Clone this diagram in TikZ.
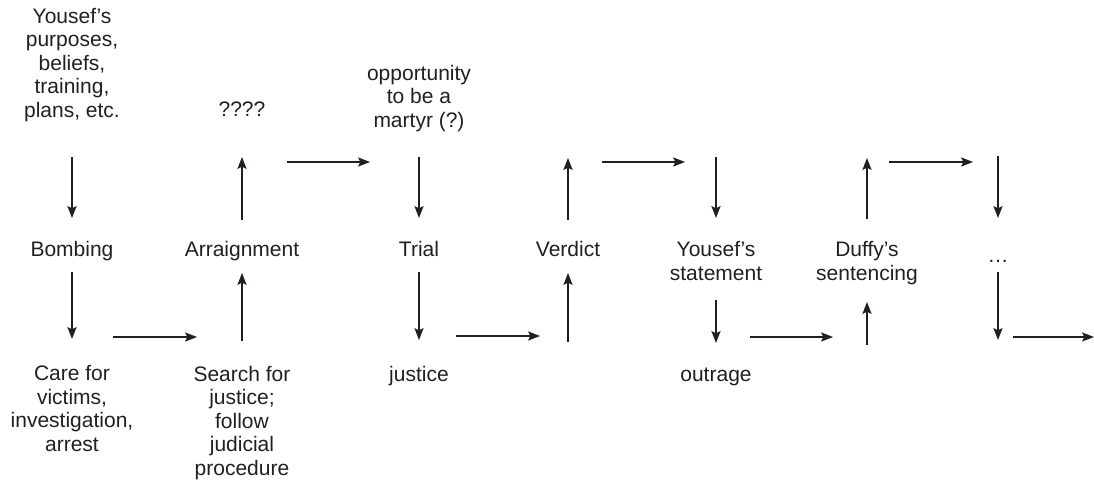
\documentclass[tikz,border=0pt]{standalone}
\usepackage{fontspec}
\setmainfont{Liberation Sans}
\usetikzlibrary{arrows.meta}
\definecolor{ink}{HTML}{231F20}
\begin{document}
\begin{tikzpicture}[x=0.5pt,y=-0.5pt,
  lbl/.style={anchor=base,inner sep=0pt,align=center,text=ink,
    font=\fontsize{10.5}{11.7}\selectfont},
  flow/.style={draw=ink,line width=0.65pt,
    -{Stealth[length=6pt,width=4.6pt,inset=1.2pt]}}]
\useasboundingbox (0,0) rectangle (1094,493);
% nodes (anchor = baseline of the last line)
\node[lbl] (plans) at (72,117) {Yousef’s\\purposes,\\beliefs,\\training,\\plans, etc.};
\node[lbl] (bomb) at (72,256) {Bombing};
\node[lbl] (care) at (72,451) {Care for\\victims,\\investigation,\\arrest};
\node[lbl] (search) at (242,475) {Search for\\justice;\\follow\\judicial\\procedure};
\node[lbl] (arr) at (242,256) {Arraignment};
\node[lbl] (quest) at (242,116) {????};
\node[lbl] (opp) at (419,127) {opportunity\\to be a\\martyr (?)};
\node[lbl] (trial) at (419,256) {Trial};
\node[lbl] (just) at (419,381) {justice};
\node[lbl] (verd) at (568,256) {Verdict};
\node[lbl] (stmt) at (716,280) {Yousef’s\\statement};
\node[lbl] (outr) at (716,381) {outrage};
\node[lbl] (duffy) at (867,280) {Duffy’s\\sentencing};
\node[lbl] (dots) at (998,262) {\ldots};
% arrow end points
\coordinate (a1s) at (72,157);   \coordinate (a1e) at (72,218);
\coordinate (a2s) at (72,272);   \coordinate (a2e) at (72,339);
\coordinate (a3s) at (113,337);  \coordinate (a3e) at (197,337);
\coordinate (a4s) at (242,341);  \coordinate (a4e) at (242,273);
\coordinate (a5s) at (242,220);  \coordinate (a5e) at (242,157);
\coordinate (a6s) at (287,162);  \coordinate (a6e) at (370,162);
\coordinate (a7s) at (419,157);  \coordinate (a7e) at (419,218);
\coordinate (a8s) at (419,272);  \coordinate (a8e) at (419,340);
\coordinate (a9s) at (456,336);  \coordinate (a9e) at (540,336);
\coordinate (a10s) at (568,342); \coordinate (a10e) at (568,273);
\coordinate (a11s) at (568,220); \coordinate (a11e) at (568,158);
\coordinate (a12s) at (602,162); \coordinate (a12e) at (685,162);
\coordinate (a13s) at (716,157); \coordinate (a13e) at (716,218);
\coordinate (a14s) at (716,300); \coordinate (a14e) at (716,343);
\coordinate (a15s) at (750,337); \coordinate (a15e) at (833,337);
\coordinate (a16s) at (867,345); \coordinate (a16e) at (867,302);
\coordinate (a17s) at (867,219); \coordinate (a17e) at (867,158);
\coordinate (a18s) at (889,162); \coordinate (a18e) at (973,162);
\coordinate (a19s) at (998,156); \coordinate (a19e) at (998,218);
\coordinate (a20s) at (998,272); \coordinate (a20e) at (998,340);
\coordinate (a21s) at (1013,337); \coordinate (a21e) at (1094,337);
% connectors
\foreach \i in {1,...,21} \draw[flow] (a\i s) -- (a\i e);
\end{tikzpicture}
\end{document}
